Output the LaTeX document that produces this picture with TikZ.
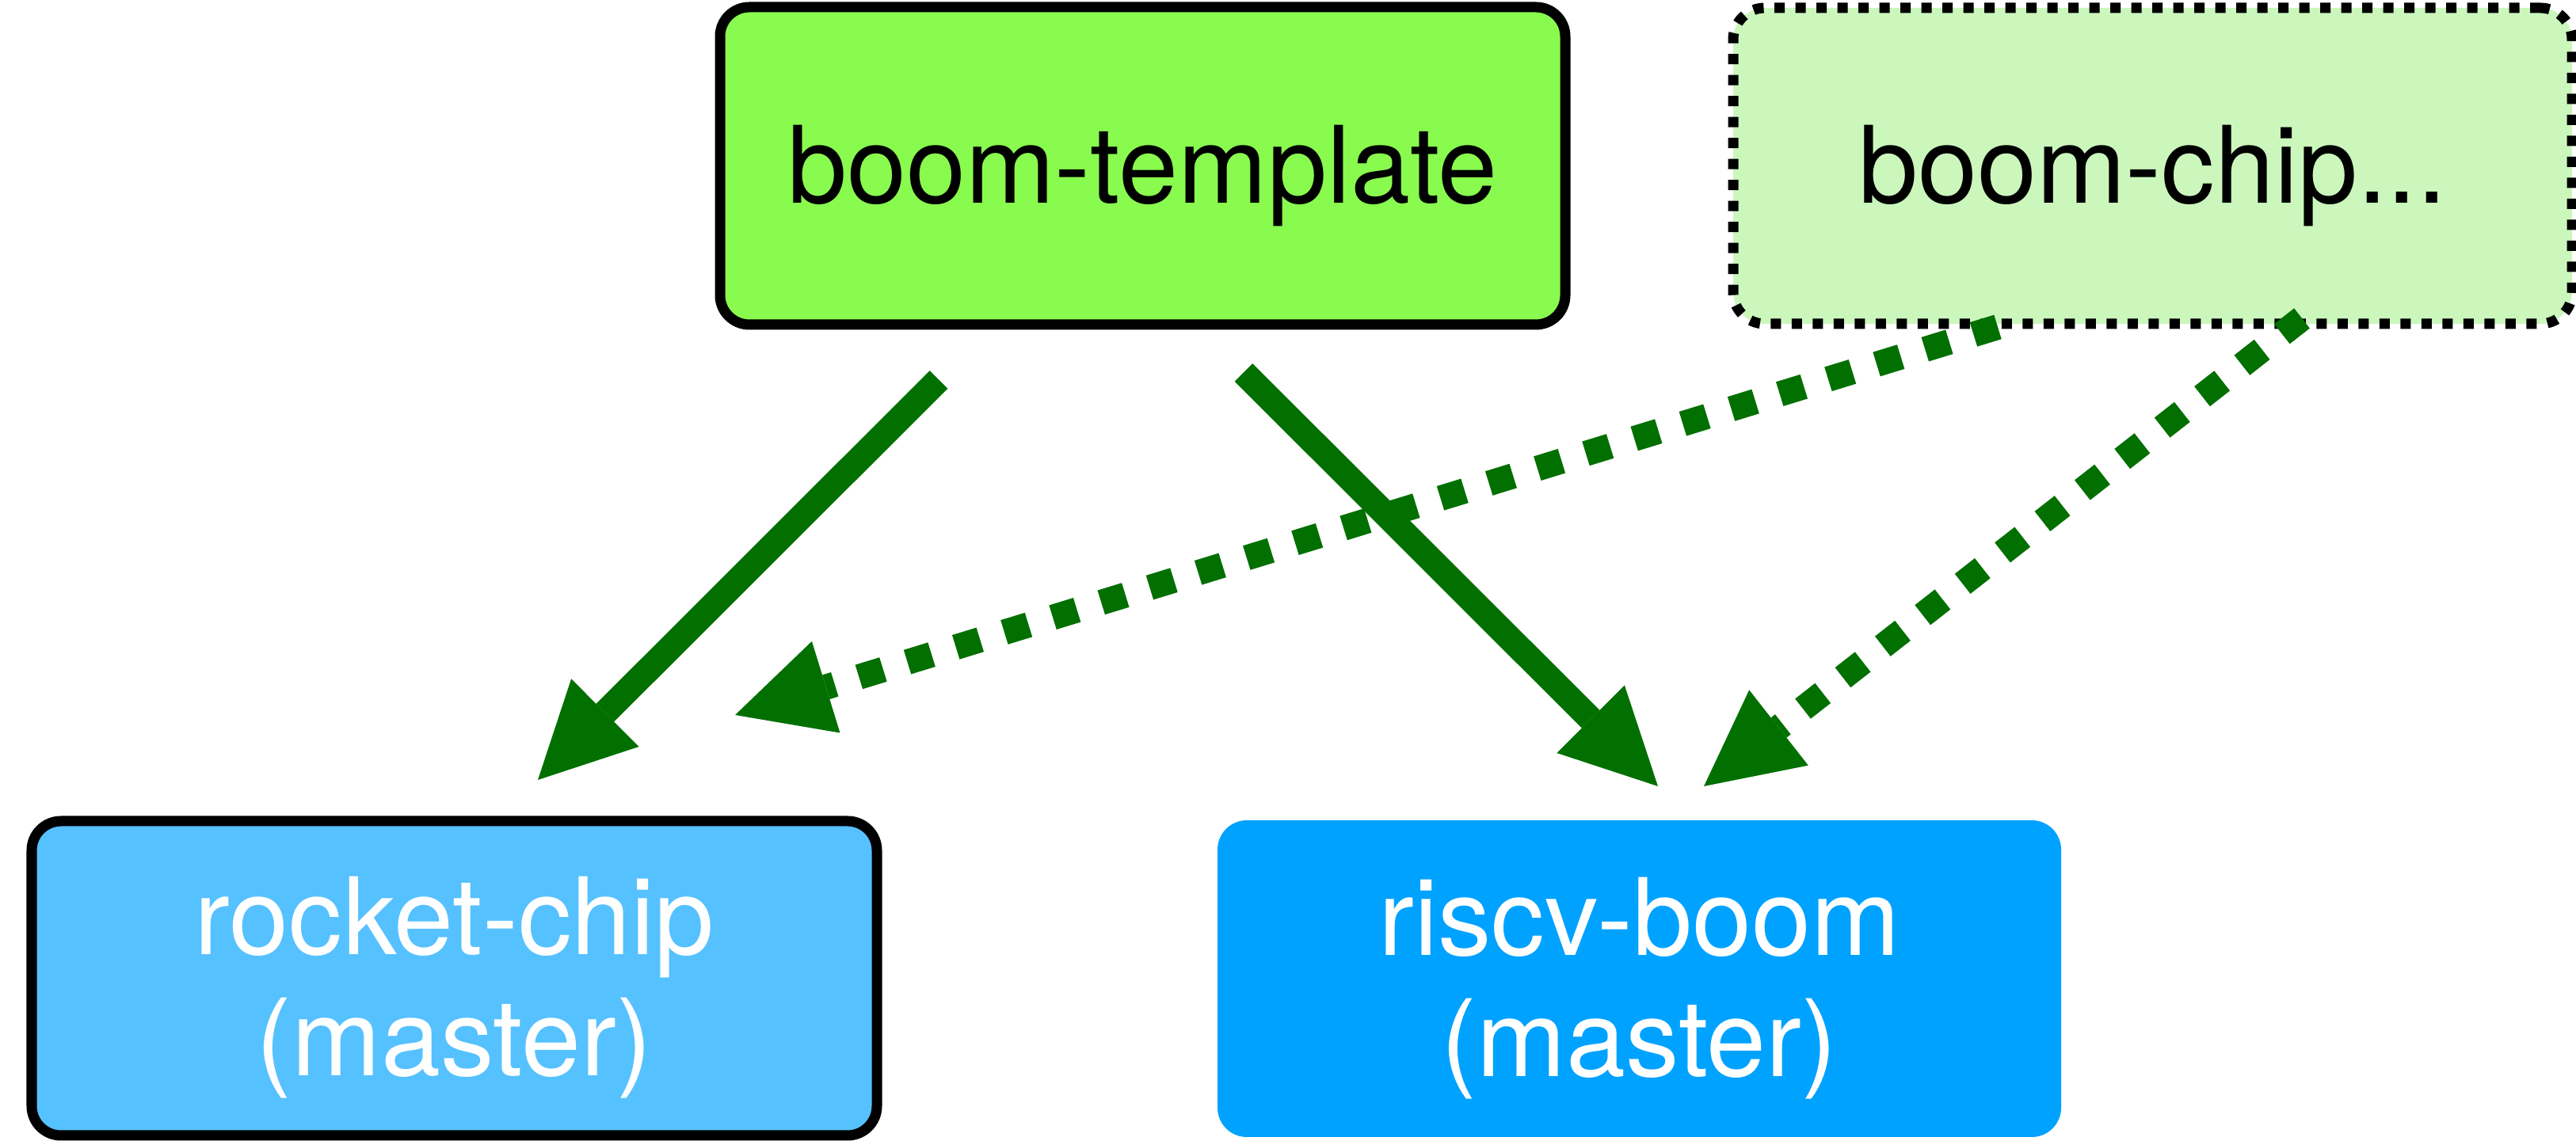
\documentclass[tikz,border=0pt]{standalone}
\usepackage{fontspec}
\setmainfont{TeX Gyre Heros}
\usetikzlibrary{arrows.meta}
\definecolor{tplgreen}{RGB}{137,250,78}
\definecolor{chipgreen}{RGB}{203,247,188}
\definecolor{rocketblue}{RGB}{86,193,255}
\definecolor{boomblue}{RGB}{0,162,255}
\definecolor{arrowgreen}{RGB}{2,112,0}
\begin{document}
\begin{tikzpicture}[
  box/.style={rectangle, rounded corners=0.37cm, inner sep=0pt, outer sep=0pt,
              font=\fontsize{38.4pt}{43.5pt}\selectfont},
  solidbox/.style={box, draw=black, line width=0.13cm},
  dotbox/.style={box, draw=black, line width=0.13cm, dash pattern=on 0.13cm off 0.135cm, rounded corners=0.4cm},
  link/.style={draw=arrowgreen, line width=0.32cm,
               -{Triangle[length=1.2cm,width=1.21cm,line width=0pt]}},
  dotlink/.style={link, dash pattern=on 0.32cm off 0.32cm}
]
\useasboundingbox (0,0) rectangle (32.52,14.41);

\node[solidbox, fill=tplgreen, minimum width=10.67cm, minimum height=4.01cm]
  (bt) at (14.425,12.315) {\raisebox{-0.475cm}[0pt][0pt]{boom-template}};
\node[dotbox, fill=chipgreen, minimum width=10.59cm, minimum height=3.99cm]
  (bc) at (27.175,12.315) {\raisebox{-0.475cm}[0pt][0pt]{boom-chip...}};
\node[solidbox, fill=rocketblue, text=white, minimum width=10.67cm, minimum height=3.97cm]
  (rc) at (5.735,2.055) {\raisebox{0.30cm}[0pt][0pt]{\begin{tabular}[t]{@{}c@{}}rocket-chip\\(master)\end{tabular}}};
\node[box, fill=boomblue, text=white, minimum width=10.65cm, minimum height=4.00cm]
  (rb) at (20.695,2.05) {\raisebox{0.29cm}[0pt][0pt]{\begin{tabular}[t]{@{}c@{}}riscv-boom\\(master)\end{tabular}}};

\draw[link] ([shift={(-2.575,-0.695)}]bt.south) -- ([shift={(1.055,0.52)}]rc.north);
\draw[link] ([shift={(1.275,-0.605)}]bt.south) -- ([shift={(0.235,0.43)}]rb.north);
\draw[dotlink] ([shift={(-1.955,-0.04)}]bc.south) -- ([shift={(3.545,1.34)}]rc.north);
\draw[dotlink] ([shift={(1.885,0.07)}]bc.south) -- ([shift={(0.815,0.43)}]rb.north);
\end{tikzpicture}
\end{document}
